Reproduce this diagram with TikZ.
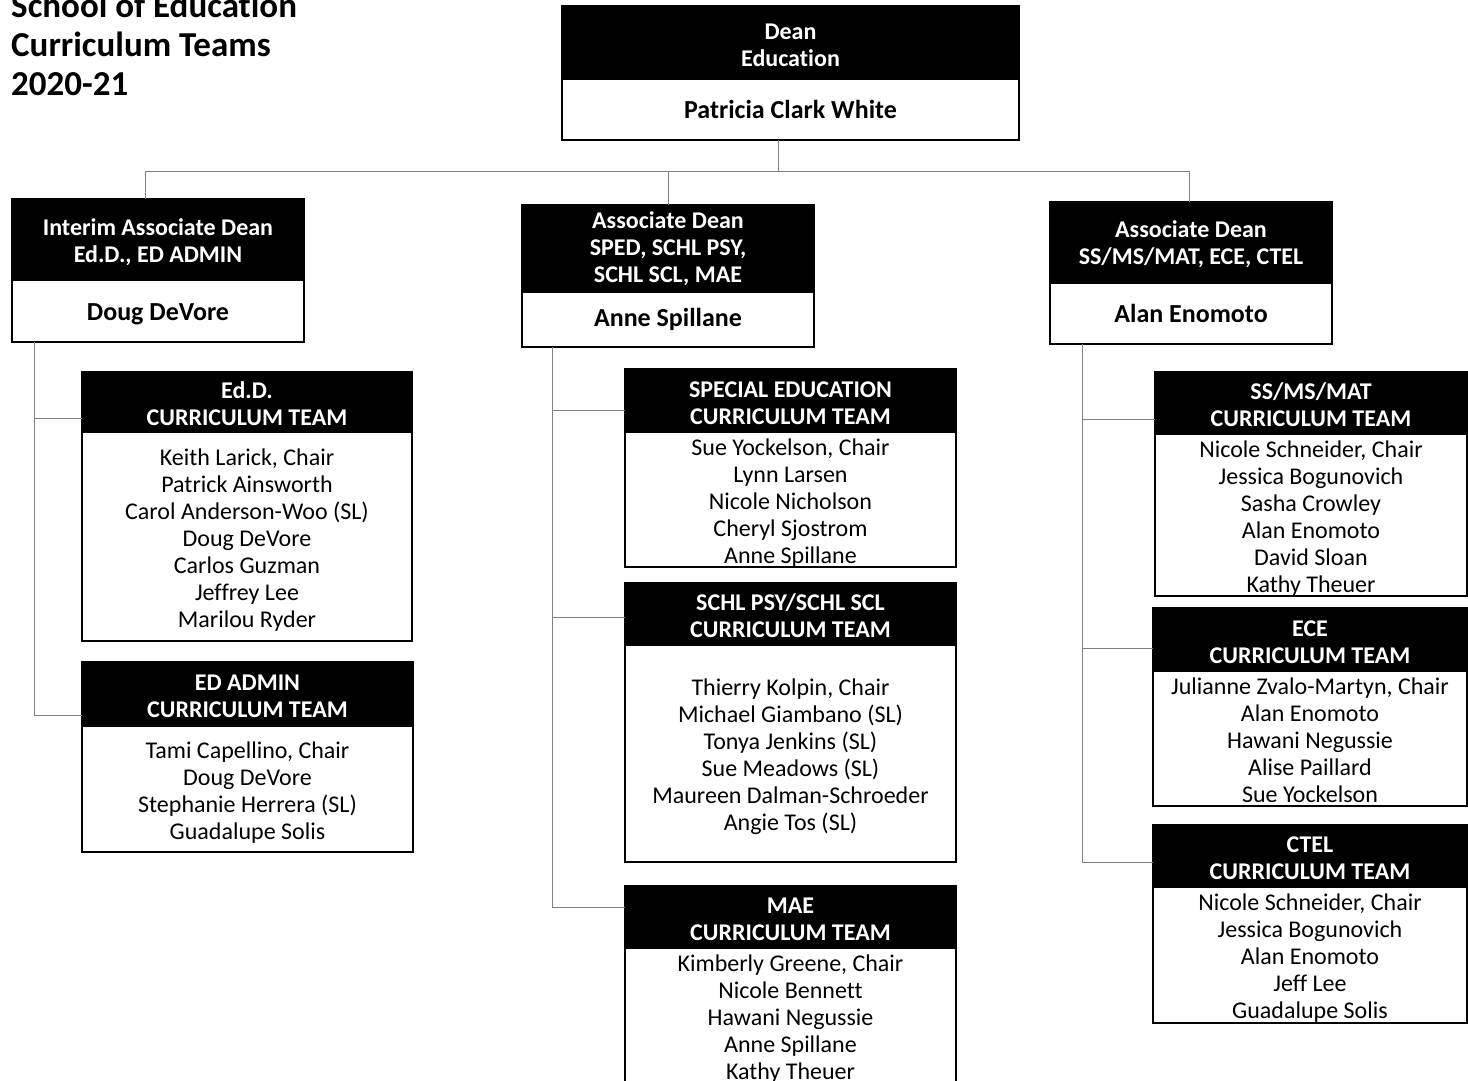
\documentclass[tikz,border=0pt]{standalone}
\usepackage{fontspec}
\setmainfont{Carlito}[Ligatures=NoCommon]
\usetikzlibrary{positioning}

% extra room above the first line of a box
\newcommand{\padhead}{\rule{0pt}{21pt}}
\newcommand{\padteam}{\rule{0pt}{23pt}}

\begin{document}
\begin{tikzpicture}[x=1pt, y=-1pt,
    headbox/.style={draw=black, fill=black, text=white, line width=1.5pt,
        font=\bfseries\fontsize{24}{27}\selectfont, align=center,
        anchor=north west, inner sep=0pt, outer sep=0pt},
    bodybox/.style={draw=black, fill=white, line width=1.5pt,
        font=\fontsize{24}{27}\selectfont, align=center,
        anchor=north west, inner sep=0pt, outer sep=0pt},
    namebox/.style={bodybox, font=\bfseries\fontsize{26}{30}\selectfont},
    link/.style={draw=black!50, line width=1pt}]

    \useasboundingbox (0,0) rectangle (1468,1081);

    % title
    \node[font=\bfseries\fontsize{35}{39}\selectfont, align=left, anchor=west, inner sep=0pt] (title) at (11,44) {School of Education\\Curriculum Teams\\2020-21};

    % dean
    \node[headbox, minimum width=457, minimum height=73] (dean-h) at (562,6) {\padhead Dean\\Education};
    \node[namebox, minimum width=457, minimum height=61, below=0pt of dean-h] (dean) {Patricia Clark White};

    % associate deans
    \node[headbox, minimum width=292, minimum height=81] (ad1-h) at (12,199) {\padteam Interim Associate Dean\\Ed.D., ED ADMIN};
    \node[namebox, minimum width=292, minimum height=62, below=0pt of ad1-h] (ad1) {\rule{0pt}{24pt}Doug DeVore};

    \node[headbox, minimum width=292, minimum height=87] (ad2-h) at (522,205) {Associate Dean\\SPED, SCHL PSY,\\SCHL SCL, MAE};
    \node[namebox, minimum width=292, minimum height=55, below=0pt of ad2-h] (ad2) {Anne Spillane};

    \node[headbox, minimum width=282, minimum height=81] (ad3-h) at (1050,202) {\padhead Associate Dean\\SS/MS/MAT, ECE, CTEL};
    \node[namebox, minimum width=282, minimum height=61, below=0pt of ad3-h] (ad3) {Alan Enomoto};

    % left teams
    \node[headbox, minimum width=330, minimum height=60] (edd-h) at (82,372) {\padhead Ed.D.\\CURRICULUM TEAM};
    \node[bodybox, minimum width=330, minimum height=209, below=0pt of edd-h] (edd) {\padteam Keith Larick, Chair\\Patrick Ainsworth\\Carol Anderson-Woo (SL)\\Doug DeVore\\Carlos Guzman\\Jeffrey Lee\\Marilou Ryder};

    \node[headbox, minimum width=331, minimum height=64] (admin-h) at (82,662) {\padhead ED ADMIN\\CURRICULUM TEAM};
    \node[bodybox, minimum width=331, minimum height=126, below=0pt of admin-h] (admin) {\padteam Tami Capellino, Chair\\Doug DeVore\\Stephanie Herrera (SL)\\Guadalupe Solis};

    % middle teams
    \node[headbox, minimum width=331, minimum height=63] (sped-h) at (625,369) {\padhead SPECIAL EDUCATION\\CURRICULUM TEAM};
    \node[bodybox, minimum width=331, minimum height=135, below=0pt of sped-h] (sped) {\padteam Sue Yockelson, Chair\\Lynn Larsen\\Nicole Nicholson\\Cheryl Sjostrom\\Anne Spillane};

    \node[headbox, minimum width=331, minimum height=62] (schl-h) at (625,583) {\padhead SCHL PSY/SCHL SCL\\CURRICULUM TEAM};
    \node[bodybox, minimum width=331, minimum height=217, below=0pt of schl-h] (schl) {\padteam Thierry Kolpin, Chair\\Michael Giambano (SL)\\Tonya Jenkins (SL)\\Sue Meadows (SL)\\Maureen Dalman-Schroeder\\Angie Tos (SL)};

    \node[headbox, minimum width=331, minimum height=62] (mae-h) at (625,886) {\padhead MAE\\CURRICULUM TEAM};
    \node[bodybox, minimum width=331, minimum height=142, below=0pt of mae-h] (mae) {Kimberly Greene, Chair\\Nicole Bennett\\Hawani Negussie\\Anne Spillane\\Kathy Theuer};

    % right teams
    \node[headbox, minimum width=312, minimum height=62] (ss-h) at (1155,372) {\padhead SS/MS/MAT\\CURRICULUM TEAM};
    \node[bodybox, minimum width=312, minimum height=162, below=0pt of ss-h] (ss) {\padteam Nicole Schneider, Chair\\Jessica Bogunovich\\Sasha Crowley\\Alan Enomoto\\David Sloan\\Kathy Theuer};

    \node[headbox, minimum width=314, minimum height=63] (ece-h) at (1153,608) {\padhead ECE\\CURRICULUM TEAM};
    \node[bodybox, minimum width=314, minimum height=135, below=0pt of ece-h] (ece) {\padhead Julianne Zvalo-Martyn, Chair\\Alan Enomoto\\Hawani Negussie\\Alise Paillard\\Sue Yockelson};

    \node[headbox, minimum width=314, minimum height=62] (ctel-h) at (1153,825) {\padhead CTEL\\CURRICULUM TEAM};
    \node[bodybox, minimum width=314, minimum height=136, below=0pt of ctel-h] (ctel) {\padteam Nicole Schneider, Chair\\Jessica Bogunovich\\Alan Enomoto\\Jeff Lee\\Guadalupe Solis};

    % connectors
    \coordinate (top) at (778,171);
    \coordinate (j1) at (145,171);
    \coordinate (j2) at (668,171);
    \coordinate (j3) at (1189,171);
    \draw[link] (top |- dean.south) -- (top);
    \draw[link] (j1) -- (j3);
    \draw[link] (j1) -- (j1 |- ad1-h.north);
    \draw[link] (j2) -- (j2 |- ad2-h.north);
    \draw[link] (j3) -- (j3 |- ad3-h.north);

    \coordinate (l0) at (34,342);
    \coordinate (l1) at (34,418);
    \coordinate (l2) at (34,715);
    \draw[link] (l0 |- ad1.south) -- (l2) -- (l2 -| admin-h.west);
    \draw[link] (l1) -- (l1 -| edd-h.west);

    \coordinate (m0) at (552,347);
    \coordinate (m1) at (552,410);
    \coordinate (m2) at (552,617);
    \coordinate (m3) at (552,907);
    \draw[link] (m0 |- ad2.south) -- (m3) -- (m3 -| mae-h.west);
    \draw[link] (m1) -- (m1 -| sped-h.west);
    \draw[link] (m2) -- (m2 -| schl-h.west);

    \coordinate (r0) at (1082,344);
    \coordinate (r1) at (1082,419);
    \coordinate (r2) at (1082,648);
    \coordinate (r3) at (1082,862);
    \draw[link] (r0 |- ad3.south) -- (r3) -- (r3 -| ctel-h.west);
    \draw[link] (r1) -- (r1 -| ss-h.west);
    \draw[link] (r2) -- (r2 -| ece-h.west);
\end{tikzpicture}
\end{document}
